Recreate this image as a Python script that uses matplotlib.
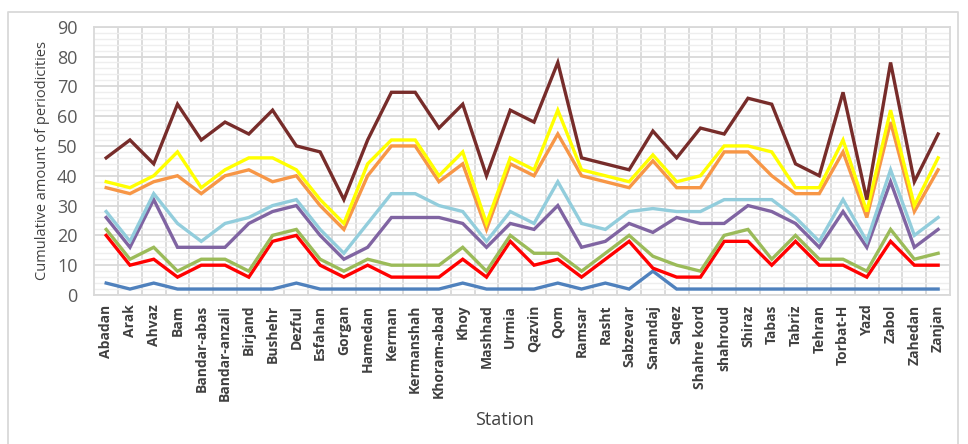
import numpy as np
import matplotlib.pyplot as plt
from matplotlib.lines import Line2D

stations = ["Abadan", "Arak", "Ahvaz", "Bam", "Bandar-abas", "Bandar-anzali",
            "Birjand", "Bushehr", "Dezful", "Esfahan", "Gorgan", "Hamedan",
            "Kerman", "Kermanshah", "Khoram-abad", "Khoy", "Mashhad", "Urmia",
            "Qazvin", "Qom", "Ramsar", "Rasht", "Sabzevar", "Sanandaj", "Saqez",
            "Shahre kord", "shahroud", "Shiraz", "Tabas", "Tabriz", "Tehran",
            "Torbat-H", "Yazd", "Zabol", "Zahedan", "Zanjan"]

blue = [4, 2, 4, 2, 2, 2, 2, 2, 4, 2, 2, 2, 2, 2, 2, 4, 2, 2,
        2, 4, 2, 4, 2, 8, 2, 2, 2, 2, 2, 2, 2, 2, 2, 2, 2, 2]
red = [20, 10, 12, 6, 10, 10, 6, 18, 20, 10, 6, 10, 6, 6, 6, 12, 6, 18,
       10, 12, 6, 12, 18, 9, 6, 6, 18, 18, 10, 18, 10, 10, 6, 18, 10, 10]
green = [22, 12, 16, 8, 12, 12, 8, 20, 22, 12, 8, 12, 10, 10, 10, 16, 8, 20,
         14, 14, 8, 14, 20, 13, 10, 8, 20, 22, 12, 20, 12, 12, 8, 22, 12, 14]
purple = [26, 16, 32, 16, 16, 16, 24, 28, 30, 20, 12, 16, 26, 26, 26, 24, 16, 24,
          22, 30, 16, 18, 24, 21, 26, 24, 24, 30, 28, 24, 16, 28, 16, 38, 16, 22]
aqua = [28, 18, 34, 24, 18, 24, 26, 30, 32, 22, 14, 24, 34, 34, 30, 28, 18, 28,
        24, 38, 24, 22, 28, 29, 28, 28, 32, 32, 32, 26, 18, 32, 18, 42, 20, 26]
orange = [36, 34, 38, 40, 34, 40, 42, 38, 40, 30, 22, 40, 50, 50, 38, 44, 22, 44,
          40, 54, 40, 38, 36, 45, 36, 36, 48, 48, 40, 34, 34, 48, 26, 58, 28, 42]
yellow = [38, 36, 40, 48, 36, 42, 46, 46, 42, 32, 24, 44, 52, 52, 40, 48, 24, 46,
          42, 62, 42, 40, 38, 47, 38, 40, 50, 50, 48, 36, 36, 52, 28, 62, 30, 46]
brown = [46, 52, 44, 64, 52, 58, 54, 62, 50, 48, 32, 52, 68, 68, 56, 64, 40, 62,
         58, 78, 46, 44, 42, 55, 46, 56, 54, 66, 64, 44, 40, 68, 32, 78, 38, 54]

series = [(blue, "#4f81bd"), (red, "#ff0000"), (green, "#9bbb59"),
          (purple, "#8064a2"), (aqua, "#92cddc"), (orange, "#f79646"),
          (yellow, "#ffff00"), (brown, "#772c2a")]

plt.rcParams['font.family'] = ['Open Sans', 'DejaVu Sans']

fig = plt.figure(figsize=(9.68, 4.44), dpi=100)
ax = fig.add_axes([94.3 / 968, 1 - 295 / 444, (950 - 94.3) / 968, (295 - 26.7) / 444])

x = np.arange(len(stations))
for vals, col in series:
    ax.plot(x, vals, color=col, lw=2.4, solid_joinstyle='miter', zorder=3)

ax.set_xlim(-0.5, len(stations) - 0.5)
ax.set_ylim(0, 90)
ax.set_yticks(np.arange(0, 91, 10))
ax.set_yticks(np.arange(0, 91, 2), minor=True)
ax.set_xticks(x)
ax.set_xticks(np.arange(0.5, len(stations) - 1, 1), minor=True)
ax.set_xticklabels(stations, rotation=90, fontsize=10, fontweight='bold', color='#404040')
ax.tick_params(axis='y', labelsize=13, labelcolor='#595959', length=0, pad=12)
ax.tick_params(axis='x', length=0, pad=7)
ax.tick_params(which='minor', length=0)

# gridlines: light minor rows, grey major rows, column separators
ax.grid(which='minor', axis='y', color='#eeeeee', lw=1.0, zorder=0)
ax.grid(which='major', axis='y', color='#d9d9d9', lw=1.3, zorder=1)
ax.grid(which='minor', axis='x', color='#d9d9d9', lw=1.3, zorder=1)
ax.set_axisbelow(True)
for s in ax.spines.values():
    s.set_color('#d9d9d9')
    s.set_linewidth(1.3)

ax.set_ylabel("Cumulative amount of periodicities", fontsize=10.5, color='#404040', labelpad=5)
fig.text(505 / 968, 1 - 420 / 444, "Station", fontsize=13, color='#404040',
         ha='center', va='center')

# chart area frame
fx0, fx1, fy1 = 8 / 968, 958 / 968, 1 - 12 / 444
fig.add_artist(Line2D([fx0, fx0, fx1, fx1], [-0.1, fy1, fy1, -0.1],
                      color='#d9d9d9', lw=1.3, transform=fig.transFigure))

fig.savefig("out.png", dpi=100)
